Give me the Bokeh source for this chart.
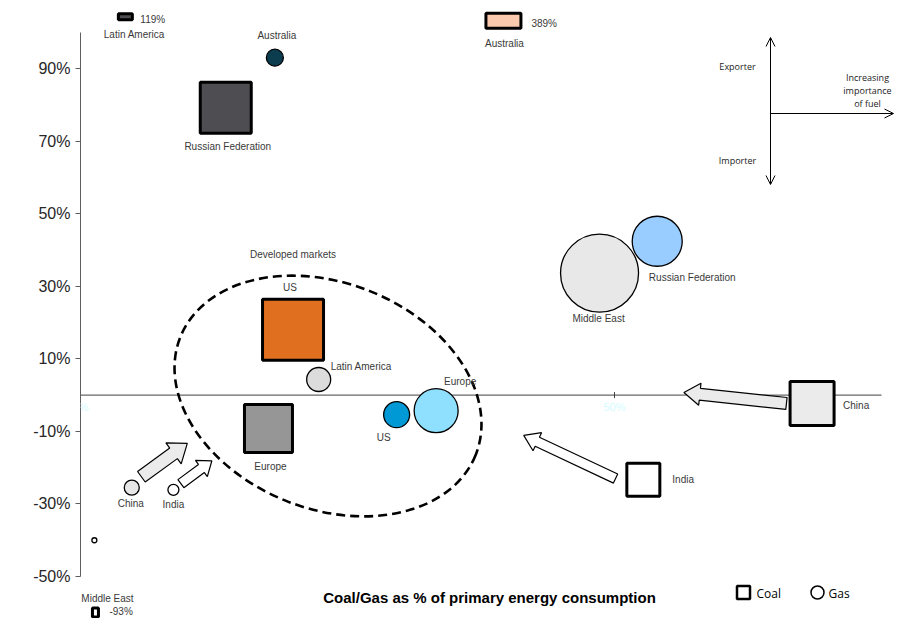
import math
from bokeh.plotting import figure
from bokeh.models import Range1d, FixedTicker, PrintfTickFormatter, Label, Arrow, OpenHead
from bokeh.core.properties import value
from bokeh.embed import file_html
from bokeh.resources import INLINE

# ---------------- data ----------------
coal_regions = ["Russian Federation", "US", "Europe", "China", "India"]
coal_share = [13.6, 19.9, 17.6, 68.5, 52.7]      # % of primary energy consumption
coal_net = [79.2, 18.0, -9.2, -2.3, -23.3]        # net export(+)/import(-) % of consumption

off_regions = ["Latin America", "Australia", "Middle East"]
off_share = [4.2, 39.6, 1.4]
off_net = [119, 389, -93]
off_labels = ["119%", "389%", "-93%"]

gas_regions = ["Australia", "Russian Federation", "Middle East", "Latin America",
               "US", "Europe", "China", "India"]
gas_share = [18.2, 54.0, 48.6, 22.3, 29.6, 33.3, 4.8, 8.7]
gas_net = [93.0, 42.4, 33.6, 4.3, -5.4, -4.3, -25.5, -26.1]

stray_share = [1.3]
stray_net = [-40.0]

# arrows: (from share, from net) -> (to share, to net)
arrow_from_share = [66.1, 50.1, 5.7, 9.4]
arrow_from_net = [-2.3, -23.0, -22.5, -24.4]
arrow_to_share = [56.5, 41.5, 10.0, 12.3]
arrow_to_net = [0.7, -11.1, -13.3, -18.1]

y_ticks = [-50, -30, -10, 10, 30, 50, 70, 90]
x_ticks = [0, 50]
x_tick_labels = ["0%", "50%"]

# --------------- styles ---------------
coal_colors = ["#4d4d52", "#e07020", "#969696", "#ebebeb", "#ffffff"]
coal_sizes = [51, 61, 48, 44, 33]
coal_lab_dx = [2, -3, 2, 31, 29]
coal_lab_dy = [39, -42, 38, 2, 0]
coal_lab_align = ["center", "center", "center", "left", "left"]

off_colors = ["#4d4d52", "#fbc9ad", "#ffffff"]
off_w = [14, 35, 6]
off_h = [6, 15, 9]
off_ypos = [104.3, 103.2, -59.9]   # clamped display positions for off-scale values
off_val_dx = [15, 28, 14]
off_val_dy = [3, 3, -1]
off_name_dx = [9, 1, 12]
off_name_dy = [18, 23, -14]

gas_colors = ["#0b3d4f", "#99ccff", "#e8e8e8", "#dcdcdc", "#0099d6", "#8fe0ff", "#e6e6e6", "#ffffff"]
gas_sizes = [17, 50, 78, 24, 26, 44, 15, 11]
gas_lab_dx = [2, 35, -1, 12, -13, 24, -1, 0]
gas_lab_dy = [-22, 36, 45, -13, 23, -29, 16, 15]
gas_lab_align = ["center", "center", "center", "left", "center", "center", "center", "center"]

arrow_fill = ["#ebebeb", "#ffffff", "#ebebeb", "#ffffff"]
arrow_shaft = [6, 5, 6.5, 5]
arrow_head = [11, 10, 13, 10]
arrow_hlen = [16, 15, 17, 13]

# --------------- geometry --------------
W, H = 898, 618
LEFT = 80
SX = 10.68          # px per % on x
SY = 3.6286         # px per % on y
Y0PX = 394.6        # pixel row of y = 0
X_END = (W - LEFT) / SX
Y_TOP = Y0PX / SY
Y_BOT = (Y0PX - H) / SY

def dx(px):   # page px -> data x
    return (px - LEFT) / SX

def dy(py):
    return (Y0PX - py) / SY

FONT = value("Liberation Sans")
LABEL_COLOR = "#3a3a3a"

p = figure(width=W, height=H, output_backend="svg", toolbar_location=None,
           x_range=Range1d(0, X_END), y_range=Range1d(Y_BOT, Y_TOP),
           x_axis_type=None, min_border_left=LEFT, min_border_right=0,
           min_border_top=0, min_border_bottom=0)
p.outline_line_color = None
p.ygrid.visible = False
p.background_fill_color = "white"

ax = p.yaxis[0]
ax.bounds = (-50, 100)
ax.ticker = FixedTicker(ticks=y_ticks)
ax.formatter = PrintfTickFormatter(format="%d%%")
ax.major_label_text_font = "Liberation Sans"
ax.major_label_text_font_size = "16px"
ax.major_label_text_color = "#262626"
ax.axis_line_color = "#5e5e5e"
ax.major_tick_line_color = "#5e5e5e"
ax.major_tick_out = 5
ax.major_tick_in = 0
ax.minor_tick_line_color = None
ax.major_label_standoff = 5

# x baseline at y=0
p.segment(x0=[0], y0=[0], x1=[75], y1=[0], line_color="#404040", line_width=1)
p.scatter(x=x_ticks[1:], y=[0] * len(x_ticks[1:]), marker="dash", angle=math.pi / 2,
          size=6, line_color="#404040")
for xt, lab in zip(x_ticks, x_tick_labels):
    p.add_layout(Label(x=xt, y=0, text=lab, text_font="Liberation Sans",
                       text_font_size="11px", text_color="#d4fbff", text_align="center",
                       text_baseline="middle", y_offset=-12))

# block arrows
xs, ys = [], []
for i in range(len(arrow_from_share)):
    X0, Y0 = arrow_from_share[i] * SX, arrow_from_net[i] * SY
    X1, Y1 = arrow_to_share[i] * SX, arrow_to_net[i] * SY
    L = math.hypot(X1 - X0, Y1 - Y0)
    ux, uy = (X1 - X0) / L, (Y1 - Y0) / L
    nx, ny = -uy, ux
    s, h, hl = arrow_shaft[i], arrow_head[i], arrow_hlen[i]
    bx, by = X1 - ux * hl, Y1 - uy * hl
    pts = [(X0 + nx * s, Y0 + ny * s), (bx + nx * s, by + ny * s), (bx + nx * h, by + ny * h),
           (X1, Y1), (bx - nx * h, by - ny * h), (bx - nx * s, by - ny * s),
           (X0 - nx * s, Y0 - ny * s)]
    xs.append([q[0] / SX for q in pts])
    ys.append([q[1] / SY for q in pts])
p.patches(xs=xs, ys=ys, fill_color=arrow_fill, line_color="black", line_width=1.2)

# developed markets ellipse
ell_x, ell_y = dx(327.5), dy(395.5)
p.ellipse(x=[ell_x], y=[ell_y], width=[318], height=[226], angle=[-0.38],
          width_units="screen", height_units="screen", fill_color=None,
          line_color="black", line_width=2.6, line_dash="9 5")
p.text(x=[ell_x], y=[ell_y], text=["Developed markets"], text_font=FONT,
       text_font_size="10px", text_color=LABEL_COLOR, text_align="center",
       text_baseline="middle", x_offset=-35, y_offset=-142)

# coal squares
p.rect(x=coal_share, y=coal_net, width=coal_sizes, height=coal_sizes,
       width_units="screen", height_units="screen", fill_color=coal_colors,
       line_color="black", line_width=3)
p.text(x=coal_share, y=coal_net, text=coal_regions, text_font=FONT, text_font_size="10px",
       text_color=LABEL_COLOR, text_align=coal_lab_align, text_baseline="middle",
       x_offset=coal_lab_dx, y_offset=coal_lab_dy)

# off-scale coal
p.rect(x=off_share, y=off_ypos, width=off_w, height=off_h, width_units="screen",
       height_units="screen", fill_color=off_colors, line_color="black", line_width=3)
p.text(x=off_share, y=off_ypos, text=off_labels, text_font=FONT, text_font_size="10px",
       text_color=LABEL_COLOR, text_align="left", text_baseline="middle",
       x_offset=off_val_dx, y_offset=off_val_dy)
for xo, yo, name, ddx, ddy in zip(off_share, off_ypos, off_regions, off_name_dx, off_name_dy):
    p.add_layout(Label(x=xo, y=yo, text=name, text_font="Liberation Sans",
                       text_font_size="10px", text_color=LABEL_COLOR, text_align="center",
                       text_baseline="middle", x_offset=ddx, y_offset=-ddy))

# gas circles
p.scatter(x=gas_share, y=gas_net, size=gas_sizes, marker="circle", fill_color=gas_colors,
          line_color="black", line_width=1.3)
p.text(x=gas_share, y=gas_net, text=gas_regions, text_font=FONT, text_font_size="10px",
       text_color=LABEL_COLOR, text_align=gas_lab_align, text_baseline="middle",
       x_offset=gas_lab_dx, y_offset=gas_lab_dy)
p.scatter(x=stray_share, y=stray_net, size=5, marker="circle", fill_color="white",
          line_color="black", line_width=1.3)

# quadrant key (top right)
qx, qtop, qbot, qmid, qright = dx(770), dy(37), dy(184), dy(113), dx(893)
p.add_layout(Arrow(start=OpenHead(size=9, line_width=1), end=OpenHead(size=9, line_width=1),
                   x_start=qx, y_start=qbot, x_end=qx, y_end=qtop, line_width=1))
p.add_layout(Arrow(end=OpenHead(size=9, line_width=1),
                   x_start=qx, y_start=qmid, x_end=qright, y_end=qmid, line_width=1))
OS = value("Open Sans")
p.text(x=[dx(737), dx(737), dx(867), dx(867), dx(867)],
       y=[dy(66), dy(160), dy(77), dy(90), dy(103)],
       text=["Exporter", "Importer", "Increasing", "importance", "of fuel"],
       text_font=OS, text_font_size="9px", text_color="#222222", text_align="center",
       text_baseline="middle")

# legend
p.rect(x=[dx(743)], y=[dy(592)], width=[13], height=[13], width_units="screen",
       height_units="screen", fill_color="white", line_color="black", line_width=2.5)
p.scatter(x=[dx(817)], y=[dy(592)], size=13, marker="circle", fill_color="white",
          line_color="black", line_width=1.5)
p.text(x=[dx(756), dx(828)], y=[dy(593), dy(593)], text=["Coal", "Gas"], text_font=OS,
       text_font_size="12px", text_color="black", text_align="left", text_baseline="middle")

# axis titles
p.add_layout(Label(x=dx(489), y=dy(597), text="Coal/Gas as % of primary energy consumption",
                   text_font="Liberation Sans", text_font_size="15px", text_font_style="bold",
                   text_color="black", text_align="center", text_baseline="middle"))
p.add_layout(Label(x=dx(22), y=dy(363), text="Net export/import of coal/gas as % of consumption",
                   text_font="Liberation Sans", text_font_size="15px", text_font_style="bold",
                   text_color="black", text_align="center", text_baseline="middle",
                   angle=math.pi / 2))

open("out.html", "w").write(file_html(p, INLINE))
